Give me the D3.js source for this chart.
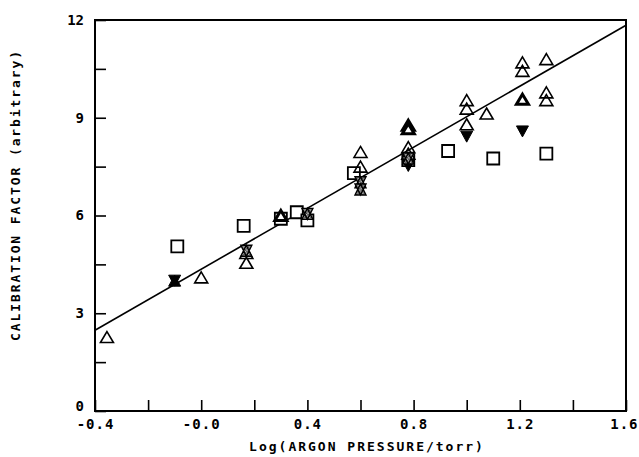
<!DOCTYPE html>
<html>
<head>
<meta charset="utf-8">
<script src="https://cdn.jsdelivr.net/npm/d3@7"></script>
<style>
  html, body { margin: 0; padding: 0; background: #fff; }
  svg text { font-family: "DejaVu Sans Mono", "Liberation Mono", monospace; font-weight: bold; fill: #000; }
</style>
</head>
<body>
<div id="chart"></div>
<script>
// Data: [log10 pressure, calibration factor]
const triOpen = [
  [-0.355, 2.27], [0.0, 4.1], [0.17, 4.55], [0.17, 4.85],
  [0.6, 7.95], [0.6, 7.5], [0.78, 8.1], [0.78, 7.9],
  [1.0, 9.54], [1.0, 9.28], [1.0, 8.8], [1.075, 9.13],
  [1.21, 10.7], [1.21, 10.44], [1.30, 10.8], [1.30, 9.78], [1.30, 9.54]
];
const triBold = [[0.3, 6.0], [0.78, 8.77], [0.78, 8.66], [1.21, 9.57]];
const squares = [
  [-0.09, 5.05], [0.16, 5.68], [0.36, 6.1], [0.40, 5.85], [0.3, 5.9],
  [0.575, 7.3], [0.78, 7.7], [0.93, 7.98], [1.10, 7.75], [1.30, 7.9]
];
const triDownFilled = [[0.78, 7.52], [1.0, 8.42], [1.21, 8.58]];
const starFilled = [[-0.1, 4.0]];
const starHatched = [[0.17, 4.92], [0.40, 6.05], [0.6, 7.02], [0.6, 6.8], [0.78, 7.75]];

const fitX = [-0.4, 1.6];
const fitY = [2.48, 11.84];

const xTicks = [-0.4, -0.2, 0.0, 0.2, 0.4, 0.6, 0.8, 1.0, 1.2, 1.4, 1.6];
const xTickLabels = ["-0.4", "", "-0.0", "", "0.4", "", "0.8", "", "1.2", "", "1.6"];
const yTicks = [0, 1.5, 3, 4.5, 6, 7.5, 9, 10.5, 12];
const yTickLabels = ["0", "", "3", "", "6", "", "9", "", "12"];

const width = 639, height = 457;
const margin = { top: 20, right: 13, bottom: 46, left: 95 };
const innerW = width - margin.left - margin.right;
const innerH = height - margin.top - margin.bottom;

const svg = d3.select("#chart").append("svg")
    .attr("width", width).attr("height", height)
    .attr("display", "block");

const defs = svg.append("defs");
const pat = defs.append("pattern")
    .attr("id", "hatch").attr("patternUnits", "userSpaceOnUse")
    .attr("width", 3).attr("height", 3);
pat.append("rect").attr("width", 3).attr("height", 3).attr("fill", "#fff");
pat.append("rect").attr("width", 1.5).attr("height", 1.5).attr("fill", "#000");
pat.append("rect").attr("x", 1.5).attr("y", 1.5).attr("width", 1.5).attr("height", 1.5).attr("fill", "#000");

const g = svg.append("g").attr("transform", `translate(${margin.left},${margin.top})`);

const x = d3.scaleLinear().domain([-0.4, 1.6]).range([0, innerW]);
const y = d3.scaleLinear().domain([0, 12]).range([innerH, 0]);

// Frame
g.append("rect")
    .attr("x", 0).attr("y", 0).attr("width", innerW).attr("height", innerH)
    .attr("fill", "none").attr("stroke", "#000").attr("stroke-width", 2);

// X axis ticks (inward)
const xAxis = g.append("g").attr("transform", `translate(0,${innerH})`)
    .call(d3.axisBottom(x).tickValues(xTicks).tickSize(-11).tickPadding(14)
        .tickFormat((d, i) => xTickLabels[i]));
xAxis.select(".domain").remove();
xAxis.selectAll("line").attr("stroke", "#000").attr("stroke-width", 1.6);
xAxis.selectAll("text").style("font-size", "14px").attr("dy", "0.25em")
    .style("letter-spacing", "1px");
// last label sits against the right edge
xAxis.selectAll(".tick").filter(d => d === 1.6).select("text")
    .attr("text-anchor", "end").attr("x", 12);

// Y axis ticks (inward)
const yAxis = g.append("g")
    .call(d3.axisLeft(y).tickValues(yTicks).tickSize(-11).tickPadding(11)
        .tickFormat((d, i) => yTickLabels[i]));
yAxis.select(".domain").remove();
yAxis.selectAll("line").attr("stroke", "#000").attr("stroke-width", 1.6);
yAxis.selectAll("text").style("font-size", "14px").style("letter-spacing", "0px");
yAxis.selectAll(".tick").filter(d => d === 0).select("text").attr("dy", "-0.05em");

// Axis titles
svg.append("text")
    .attr("x", 367).attr("y", 451)
    .attr("text-anchor", "middle")
    .style("font-size", "13px").style("letter-spacing", "2px")
    .text("Log(ARGON PRESSURE/torr)");

svg.append("text")
    .attr("transform", `translate(20,195) rotate(-90)`)
    .attr("text-anchor", "middle")
    .style("font-size", "13px").style("letter-spacing", "1.9px")
    .text("CALIBRATION FACTOR (arbitrary)");

// Fitted line
g.append("line")
    .attr("x1", x(fitX[0])).attr("y1", y(fitY[0]))
    .attr("x2", x(fitX[1])).attr("y2", y(fitY[1]))
    .attr("stroke", "#000").attr("stroke-width", 1.6);

// Marker shapes (same winding so the stars fill solid)
const up = (w, h) => `M0,${-h / 2}L${w / 2},${h / 2}L${-w / 2},${h / 2}Z`;
const down = (w, h) => `M0,${h / 2}L${-w / 2},${-h / 2}L${w / 2},${-h / 2}Z`;
const sq = s => `M${-s / 2},${-s / 2}h${s}v${s}h${-s}Z`;
const pos = d => `translate(${x(d[0])},${y(d[1])})`;

g.selectAll(".sq").data(squares).enter().append("path").attr("class", "sq")
    .attr("transform", pos).attr("d", sq(12))
    .attr("fill", "#fff").attr("stroke", "#000").attr("stroke-width", 1.8);

g.selectAll(".tri").data(triOpen).enter().append("path").attr("class", "tri")
    .attr("transform", pos).attr("d", up(13, 11))
    .attr("fill", "none").attr("stroke", "#000").attr("stroke-width", 1.6);

g.selectAll(".trib").data(triBold).enter().append("path").attr("class", "trib")
    .attr("transform", pos).attr("d", up(12, 10))
    .attr("fill", "#fff").attr("stroke", "#000").attr("stroke-width", 3);

g.selectAll(".trid").data(triDownFilled).enter().append("path").attr("class", "trid")
    .attr("transform", pos).attr("d", down(12, 11))
    .attr("fill", "#000").attr("stroke", "#000").attr("stroke-width", 1);

g.selectAll(".starf").data(starFilled).enter().append("path").attr("class", "starf")
    .attr("transform", pos).attr("d", up(12, 11) + down(12, 11))
    .attr("fill", "#000").attr("stroke", "#000").attr("stroke-width", 1);

g.selectAll(".starh").data(starHatched).enter().append("path").attr("class", "starh")
    .attr("transform", pos).attr("d", up(11, 11) + down(11, 11))
    .attr("fill", "url(#hatch)").attr("stroke", "#000").attr("stroke-width", 1.4);
</script>
</body>
</html>
